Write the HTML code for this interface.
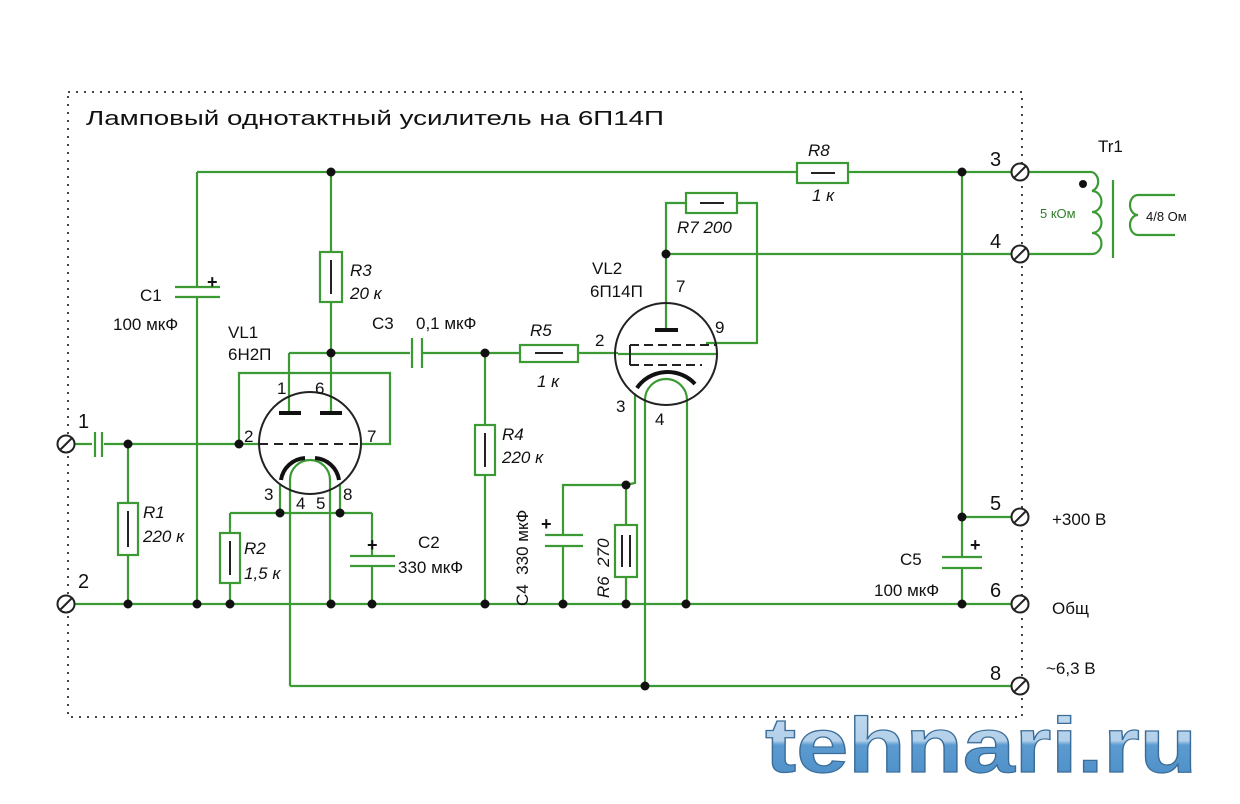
<!DOCTYPE html>
<html><head><meta charset="utf-8">
<style>
html,body{margin:0;padding:0;background:#fff;}
svg{display:block;}
text{font-family:"Liberation Sans",sans-serif;fill:#111;}
.i{font-style:italic;}
</style></head>
<body>
<svg width="1240" height="804" viewBox="0 0 1240 804" xmlns="http://www.w3.org/2000/svg">
<defs>
<linearGradient id="wm" x1="0" y1="0" x2="0" y2="1">
<stop offset="0" stop-color="#c5dcef"/><stop offset="0.45" stop-color="#b3d0ea"/><stop offset="0.5" stop-color="#5b9bd0"/><stop offset="1" stop-color="#4a8cc6"/>
</linearGradient>
</defs>
<rect width="1240" height="804" fill="#fff"/>
<!-- dotted frame -->
<rect x="68" y="92" width="954" height="625" fill="none" stroke="#444" stroke-width="2" stroke-dasharray="2,6"/>
<text x="86" y="125" font-size="20" textLength="578" lengthAdjust="spacingAndGlyphs">Ламповый однотактный усилитель на 6П14П</text>

<g stroke="#3c9a34" stroke-width="2.2" fill="none">
<!-- top rail -->
<path d="M197 172H797M848 172H1012"/>
<!-- C1 -->
<path d="M197 172V287M197 297V604"/>
<path d="M175 287H220M175 297H220"/>
<!-- R3 -->
<path d="M331 172V252M331 302V413"/>
<rect x="320" y="252" width="22" height="50"/>
<!-- anode 1 -->
<path d="M289 353H410M289 353V413M422 353H520M578 353H618"/>
<path d="M412 338V368M422 338V368"/>
<rect x="520" y="345" width="58" height="17"/>
<!-- grid loop VL1 -->
<path d="M239 444V373H390V444H362"/>
<!-- input -->
<path d="M74 444H92M104 444H259"/>
<path d="M95 432V457M102 432V457"/>
<!-- R1 -->
<path d="M128 444V503M128 555V604"/>
<rect x="118" y="503" width="20" height="52"/>
<!-- cathode VL1 -->
<path d="M280 485V513M340 485V513M230 513H372M230 513V533M230 583V604"/>
<rect x="220" y="533" width="20" height="50"/>
<path d="M372 513V556M372 566V604M350 556H395M350 566H395"/>
<!-- heater VL1 -->
<path d="M290 686V480A20 20 0 0 1 330 480V604"/>
<!-- ground rail -->
<path d="M74 604H1012"/>
<!-- R4 -->
<path d="M485 353V425M485 475V604"/>
<rect x="475" y="425" width="20" height="50"/>
<!-- VL2 anode & R7 -->
<path d="M666 329V254M666 254H1012M666 254V203H686M737 203H757V343H706"/>
<rect x="686" y="193" width="51" height="20"/>
<rect x="797" y="163" width="51" height="20"/>
<!-- g1 -->
<path d="M618 354H716"/>
<!-- cathode VL2 -->
<path d="M635 395V483L626 485H563V535M563 546V604M545 535H583M545 546H583"/>
<path d="M626 485V525M626 577V604"/>
<rect x="615" y="525" width="22" height="52"/>
<!-- heater VL2 -->
<path d="M645 686V400A21 21 0 0 1 687 400V604"/>
<!-- heater bus -->
<path d="M290 686H1012"/>
<!-- C5 -->
<path d="M962 172V557M962 568V604M942 557H982M942 568H982M962 517H1012"/>
<!-- transformer -->
<path d="M1028 172H1092M1028 254H1092"/>
<path d="M1092 172A9 10 0 0 1 1092 191A9 10 0 0 1 1092 212A9 10 0 0 1 1092 233A9 10 0 0 1 1092 254"/>
<path d="M1113 180V258"/>
<path d="M1175 195H1138A8 10 0 0 0 1138 215A8 10 0 0 0 1138 235H1175"/>
</g>
<!-- resistor inner marks -->
<g stroke="#222" stroke-width="2">
<path d="M331 260V294M128 511V547M230 541V575M485 433V467M535 353H563M700 203H724M811 173H835M622 535V567M630 535V567"/>
</g>
<!-- tubes -->
<g stroke="#222" stroke-width="2" fill="none">
<circle cx="310" cy="443" r="51"/>
<circle cx="666" cy="354" r="51"/>
<path d="M259 444H362" stroke-dasharray="9,6"/>
<path d="M630 345H716M630 365H702" stroke-dasharray="9,5"/>
<path d="M630 345V365"/>
</g>
<g stroke="#111" stroke-width="4" fill="none" stroke-linecap="butt">
<path d="M279 413H301M320 413H342M655 330H678"/>
<path d="M281 480A26 26 0 0 1 305 458M315 458A26 26 0 0 1 339 480"/>
<path d="M637 388A36 34 0 0 1 695 384"/>
</g>
<!-- dots -->
<g fill="#111">
<circle cx="331" cy="172" r="4.5"/><circle cx="962" cy="172" r="4.5"/><circle cx="331" cy="353" r="4.5"/>
<circle cx="485" cy="353" r="4.5"/><circle cx="239" cy="444" r="4.5"/><circle cx="128" cy="444" r="4.5"/>
<circle cx="280" cy="513" r="4.5"/><circle cx="340" cy="513" r="4.5"/>
<circle cx="128" cy="604" r="4.5"/><circle cx="197" cy="604" r="4.5"/><circle cx="230" cy="604" r="4.5"/>
<circle cx="331" cy="604" r="4.5"/><circle cx="372" cy="604" r="4.5"/><circle cx="485" cy="604" r="4.5"/>
<circle cx="563" cy="604" r="4.5"/><circle cx="626" cy="604" r="4.5"/><circle cx="686" cy="604" r="4.5"/>
<circle cx="962" cy="604" r="4.5"/><circle cx="962" cy="517" r="4.5"/><circle cx="666" cy="254" r="4.5"/>
<circle cx="626" cy="485" r="4.5"/><circle cx="645" cy="686" r="4.5"/><circle cx="1083" cy="184" r="4"/>
</g>
<!-- terminals -->
<g stroke="#222" stroke-width="2" fill="#fff">
<g transform="translate(1020,172)"><circle r="8.5"/><path d="M-6 6L6 -6"/></g>
<g transform="translate(1020,254)"><circle r="8.5"/><path d="M-6 6L6 -6"/></g>
<g transform="translate(1020,517)"><circle r="8.5"/><path d="M-6 6L6 -6"/></g>
<g transform="translate(1020,604)"><circle r="8.5"/><path d="M-6 6L6 -6"/></g>
<g transform="translate(1020,686)"><circle r="8.5"/><path d="M-6 6L6 -6"/></g>
<g transform="translate(66,444)"><circle r="8.5"/><path d="M-6 6L6 -6"/></g>
<g transform="translate(66,604)"><circle r="8.5"/><path d="M-6 6L6 -6"/></g>
</g>
<!-- labels -->
<g font-size="17">
<text x="990" y="166" font-size="20">3</text><text x="990" y="248" font-size="20">4</text>
<text x="990" y="510" font-size="20">5</text><text x="990" y="597" font-size="20">6</text>
<text x="990" y="680" font-size="20">8</text>
<text x="78" y="428" font-size="20">1</text><text x="78" y="588" font-size="20">2</text>
<text x="1052" y="525">+300 В</text><text x="1052" y="614">Общ</text><text x="1046" y="674">~6,3 В</text>
<text x="1098" y="152">Tr1</text>
<text x="1040" y="218" font-size="13" fill="#3c9a34" style="fill:#2f7f2a">5 кОм</text>
<text x="1146" y="221" font-size="13">4/8 Ом</text>
<text x="140" y="301">C1</text><text x="113" y="330">100 мкФ</text>
<text x="207" y="288" font-size="18" font-weight="bold">+</text>
<text x="228" y="338">VL1</text><text x="228" y="360">6Н2П</text>
<text class="i" x="350" y="276">R3</text><text class="i" x="350" y="299">20 к</text>
<text x="372" y="329">C3</text><text x="416" y="329">0,1 мкФ</text>
<text class="i" x="530" y="336">R5</text><text class="i" x="537" y="387">1 к</text>
<text x="595" y="346">2</text>
<text x="592" y="274">VL2</text><text x="590" y="297">6П14П</text>
<text x="676" y="292">7</text><text x="715" y="333">9</text>
<text x="616" y="412">3</text><text x="655" y="425">4</text>
<text class="i" x="677" y="233">R7 200</text>
<text class="i" x="808" y="156">R8</text><text class="i" x="812" y="201">1 к</text>
<text x="277" y="394">1</text><text x="315" y="394">6</text>
<text x="244" y="442">2</text><text x="367" y="442">7</text>
<text x="264" y="500">3</text><text x="296" y="509">4</text><text x="316" y="509">5</text><text x="343" y="500">8</text>
<text class="i" x="143" y="518">R1</text><text class="i" x="143" y="542">220 к</text>
<text class="i" x="244" y="554">R2</text><text class="i" x="244" y="579">1,5 к</text>
<text x="367" y="551" font-size="18" font-weight="bold">+</text>
<text x="418" y="548">C2</text><text x="398" y="573">330 мкФ</text>
<text class="i" x="502" y="440">R4</text><text class="i" x="502" y="463">220 к</text>
<text x="541" y="530" font-size="18" font-weight="bold">+</text>
<text transform="translate(528,606) rotate(-90)">C4&#160;&#160;330 мкФ</text>
<text class="i" transform="translate(609,598) rotate(-90)">R6&#160;&#160;270</text>
<text x="970" y="551" font-size="18" font-weight="bold">+</text>
<text x="900" y="565">C5</text><text x="874" y="596">100 мкФ</text>
</g>
<!-- watermark -->
<text x="765" y="772" font-size="78" font-weight="bold" textLength="432" lengthAdjust="spacingAndGlyphs" style="fill:url(#wm)" stroke="#3b6d99" stroke-width="1.2">tehnari.ru</text>
</svg>
</body></html>
